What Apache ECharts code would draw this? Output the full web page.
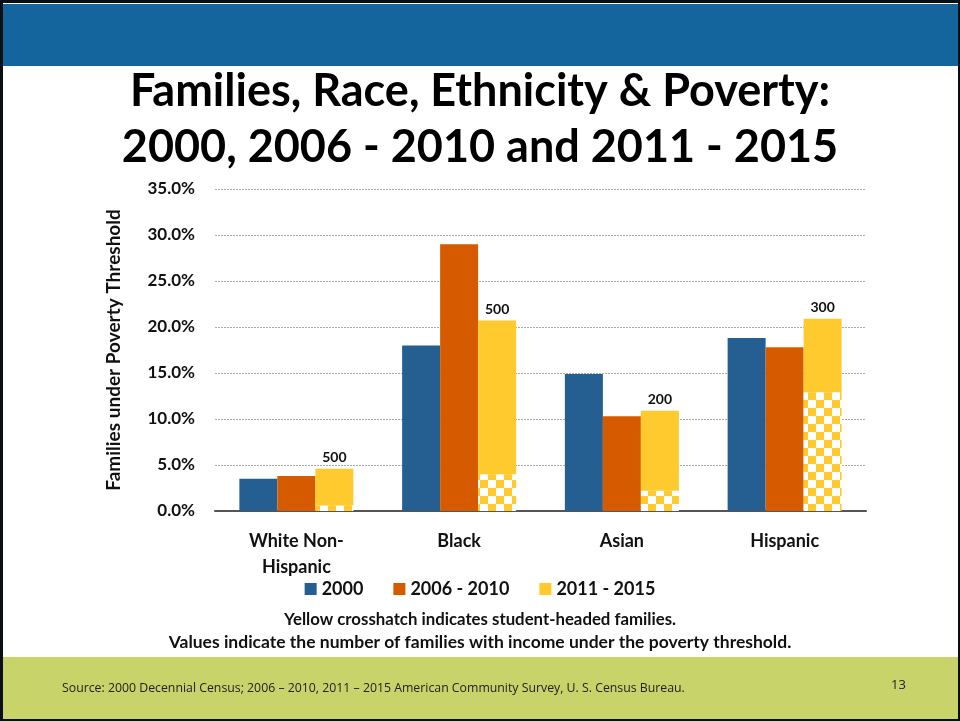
<!DOCTYPE html>
<html><head><meta charset="utf-8">
<script src="https://cdn.jsdelivr.net/npm/echarts@6/dist/echarts.min.js"></script>
<style>html,body{margin:0;padding:0;background:#fff}#c{width:960px;height:721px}</style>
</head><body><div id="c"></div>
<script>
const categories = ['White Non-\nHispanic', 'Black', 'Asian', 'Hispanic'];
const seriesNames = ['2000', '2006 - 2010', '2011 - 2015'];
const values2000 = [3.5, 18.0, 14.9, 18.8];
const values2006 = [3.8, 29.0, 10.3, 17.8];
const values2011 = [4.6, 20.7, 10.9, 20.9];
const studentShare2011 = [0.6, 4.0, 2.2, 12.9];
const familyCounts = ['500', '500', '200', '300'];
const yTicks = [0, 5, 10, 15, 20, 25, 30, 35];

const C2000 = '#255e91', C2006 = '#d65b00', C2011 = '#ffca2d';

// checkerboard pattern
const pc = document.createElement('canvas');
pc.width = 16; pc.height = 16;
const px = pc.getContext('2d');
px.fillStyle = '#ffffff'; px.fillRect(0,0,16,16);
px.fillStyle = C2011; px.fillRect(0,0,8,8); px.fillRect(8,8,8,8);

const restTop = values2011.map((v,i) => +(v - studentShare2011[i]).toFixed(2));
const F = 'Lato, "Open Sans", sans-serif';

const chart = echarts.init(document.getElementById('c'), null, {renderer:'canvas'});
chart.setOption({
  animation: false,
  backgroundColor: '#ffffff',
  graphic: [
    {type:'rect', z:-10, shape:{x:0,y:0,width:960,height:721}, style:{fill:'#0a0f14'}},
    {type:'rect', z:-9, shape:{x:3,y:3,width:955,height:716}, style:{fill:'#ffffff'}},
    {type:'rect', z:-8, shape:{x:3,y:4,width:955,height:62}, style:{fill:'#14649e'}},
    {type:'rect', z:-8, shape:{x:3,y:657,width:955,height:62}, style:{fill:'#c8d36a'}},
    {type:'text', left:62, top:682, style:{text:'Source: 2000 Decennial Census; 2006 – 2010, 2011 – 2015 American Community Survey, U. S. Census Bureau.', font:'12.3px "Open Sans", sans-serif', fill:'#222'}},
    {type:'text', left:891, top:679, style:{text:'13', font:'13px "Open Sans", sans-serif', fill:'#222'}},
    {type:'text', left:'center', top:611, style:{text:'Yellow crosshatch indicates student-headed families.', font:'bold 16.8px ' + F, fill:'#111'}},
    {type:'text', left:'center', top:633, style:{text:'Values indicate the number of families with income under the poverty threshold.', font:'bold 17.5px ' + F, fill:'#111'}}
  ],
  title: {
    text: 'Families, Race, Ethnicity & Poverty:\n2000, 2006 - 2010 and 2011 - 2015',
    left: 'center', top: 58,
    textStyle: {fontFamily: F, fontWeight: 'bold', fontSize: 45, lineHeight: 56, color: '#000'}
  },
  legend: {
    data: seriesNames,
    top: 575, left: 'center',
    itemWidth: 12, itemHeight: 12, itemGap: 30,
    icon: 'rect',
    textStyle: {fontFamily: F, fontWeight: 'bold', fontSize: 18, color: '#111'}
  },
  grid: {left: 215, right: 94, top: 189, bottom: 210},
  xAxis: {
    type: 'category', data: categories,
    axisLine: {lineStyle: {color: '#555', width: 2}},
    axisTick: {show: false},
    axisLabel: {fontFamily: F, fontWeight: 'bold', fontSize: 18, color: '#111', margin: 17, lineHeight: 26}
  },
  yAxis: {
    type: 'value', min: 0, max: 35, interval: 5,
    name: 'Families under Poverty Threshold', nameLocation: 'middle', nameGap: 92,
    nameTextStyle: {fontFamily: F, fontWeight: 'bold', fontSize: 19, color: '#111'},
    axisLine: {show: false}, axisTick: {show: false},
    axisLabel: {fontFamily: F, fontWeight: 'bold', fontSize: 17, color: '#111', margin: 20,
      formatter: v => yTicks.includes(v) ? v.toFixed(1) + '%' : ''},
    splitLine: {lineStyle: {color: '#aaa', type: [2, 1], width: 1}}
  },
  series: [
    {name: seriesNames[0], type: 'bar', data: values2000, itemStyle: {color: C2000}, barWidth: 38, barGap: '0%'},
    {name: seriesNames[1], type: 'bar', data: values2006, itemStyle: {color: C2006}, barWidth: 38, barGap: '0%'},
    {name: 'student', type: 'bar', stack: 'y2011', data: studentShare2011, itemStyle: {color: {image: pc, repeat: 'repeat'}}, barWidth: 38, barGap: '0%'},
    {name: seriesNames[2], type: 'bar', stack: 'y2011', data: restTop, itemStyle: {color: C2011}, barWidth: 38, barGap: '0%',
      label: {show: true, position: 'top', distance: 4, fontFamily: F, fontWeight: 'bold', fontSize: 14, color: '#111',
        formatter: p => familyCounts[p.dataIndex]}}
  ]
});
</script></body></html>
